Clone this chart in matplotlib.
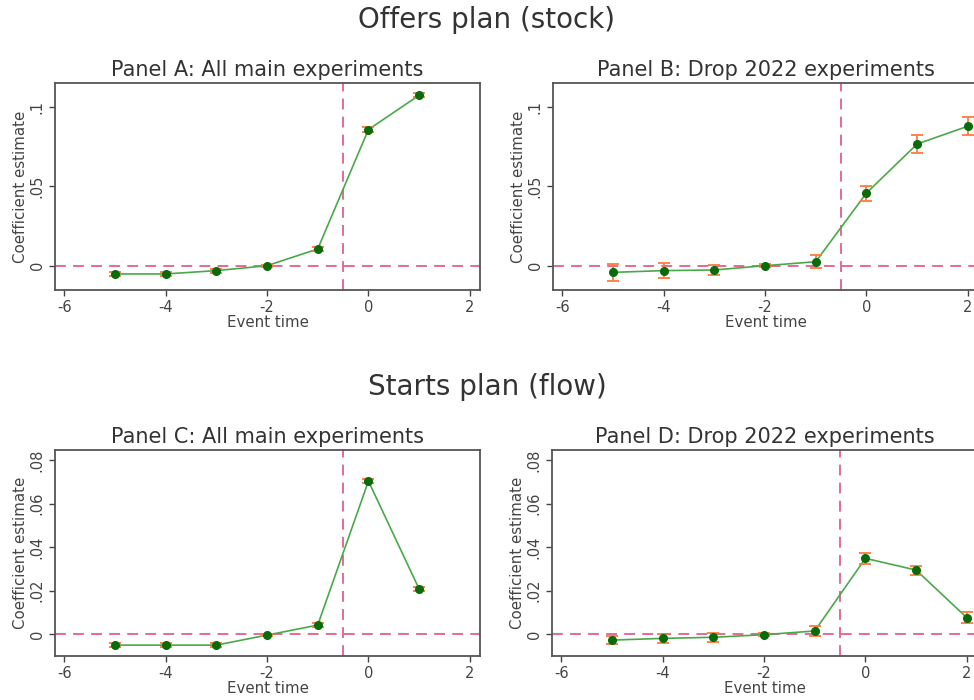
import matplotlib.pyplot as plt

# event times
t_main = [-5, -4, -3, -2, -1, 0, 1]
t_drop = [-5, -4, -3, -2, -1, 0, 1, 2]

# Offers plan (stock)
a_coef = [-0.0052, -0.0052, -0.0031, 0.0, 0.0105, 0.0857, 0.1073]
a_err = [0.0012, 0.0012, 0.0012, 0.0006, 0.0012, 0.0013, 0.0013]
b_coef = [-0.0042, -0.0031, -0.0027, 0.0, 0.0025, 0.0457, 0.0766, 0.0878]
b_err = [0.0053, 0.0047, 0.0032, 0.0008, 0.004, 0.0047, 0.0058, 0.0058]

# Starts plan (flow)
c_coef = [-0.0051, -0.0051, -0.0051, -0.0005, 0.0041, 0.0703, 0.0207]
c_err = [0.0008, 0.0008, 0.0008, 0.0005, 0.0009, 0.0009, 0.0009]
d_coef = [-0.0028, -0.002, -0.0015, -0.0003, 0.0014, 0.0348, 0.0294, 0.0075]
d_err = [0.002, 0.002, 0.002, 0.0006, 0.0025, 0.0025, 0.0021, 0.0025]

x_ticks = [-6, -4, -2, 0, 2]
top_yticks = [0, 0.05, 0.1]
top_ylabels = ['0', '.05', '.1']
bot_yticks = [0, 0.02, 0.04, 0.06, 0.08]
bot_ylabels = ['0', '.02', '.04', '.06', '.08']

W, H = 974, 700
fig = plt.figure(figsize=(W / 100, H / 100), dpi=100)


def box(left, top, right, bottom):
    return [left / W, 1 - bottom / H, (right - left) / W, (bottom - top) / H]


def panel(rect, t, coef, err, title, yt, yl, ylim):
    ax = fig.add_axes(rect)
    ax.axhline(0, color='#e0608a', lw=1.3, ls=(0, (6, 4)), zorder=1)
    ax.axvline(-0.5, color='#e0608a', lw=1.3, ls=(0, (6, 4)), zorder=1)
    ax.plot(t, coef, color='#4aa84a', lw=1.2, zorder=2)
    ax.errorbar(t, coef, yerr=err, fmt='none', ecolor='#ff7a3a', elinewidth=1.3,
                capsize=4, capthick=1.3, zorder=3)
    ax.plot(t, coef, 'o', color='#0a6b0a', ms=5.5, zorder=4)
    ax.set_xlim(-6.18, 2.2)
    ax.set_ylim(*ylim)
    ax.set_xticks(x_ticks)
    ax.set_xticklabels([str(v) for v in x_ticks])
    ax.set_yticks(yt)
    ax.set_yticklabels(yl, rotation=90, va='center')
    ax.tick_params(colors='#444444', labelsize=10.5, length=4, width=1)
    for s in ax.spines.values():
        s.set_color('#555555')
        s.set_linewidth(1.3)
    ax.set_xlabel('Event time', fontsize=10.8, color='#444444', labelpad=0)
    ax.set_ylabel('Coefficient estimate', fontsize=10.8, color='#444444', labelpad=1)
    ax.set_title(title, fontsize=15, color='#333333', pad=5)
    return ax


panel(box(55, 83, 480, 290), t_main, a_coef, a_err, 'Panel A: All main experiments',
      top_yticks, top_ylabels, (-0.0153, 0.115))
panel(box(553, 83, 978, 290), t_drop, b_coef, b_err, 'Panel B: Drop 2022 experiments',
      top_yticks, top_ylabels, (-0.0153, 0.115))
panel(box(55, 450, 480, 656), t_main, c_coef, c_err, 'Panel C: All main experiments',
      bot_yticks, bot_ylabels, (-0.0101, 0.0846))
panel(box(552, 450, 977, 656), t_drop, d_coef, d_err, 'Panel D: Drop 2022 experiments',
      bot_yticks, bot_ylabels, (-0.0101, 0.0846))

fig.text(487 / W, 1 - 20 / H, 'Offers plan (stock)', ha='center', va='center',
         fontsize=20, color='#333333')
fig.text(487 / W, 1 - 387 / H, 'Starts plan (flow)', ha='center', va='center',
         fontsize=20, color='#333333')

fig.savefig('out.png', dpi=100)
